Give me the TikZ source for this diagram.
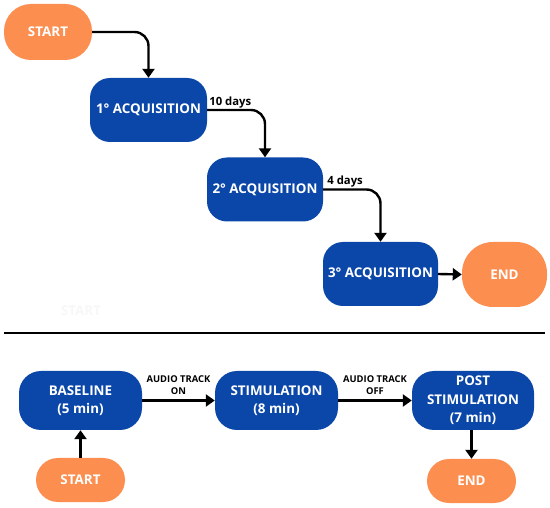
\documentclass[tikz,border=0pt]{standalone}
\usepackage{fontspec}
\setmainfont{Open Sans}
\usetikzlibrary{arrows.meta}
\definecolor{boxblue}{HTML}{0B47A8}
\definecolor{boxorange}{HTML}{FC8E50}
\tikzset{
  bluebox/.style={fill=boxblue, text=white, font=\bfseries\fontsize{13.4}{18.5}\selectfont, align=center, inner sep=0pt, rounded corners=20pt},
  orangebox/.style={fill=boxorange, text=white, font=\bfseries\fontsize{13.4}{18.5}\selectfont, inner sep=0pt},
  arr/.style={line width=2.4pt, -{Triangle[length=9pt,width=12pt]}},
  lbl/.style={font=\bfseries\fontsize{11.3}{13}\selectfont, align=center, inner sep=1pt},
  audlbl/.style={font=\bfseries\fontsize{9.4}{11.5}\selectfont, align=center, inner sep=1pt},
}
\begin{document}
\begin{tikzpicture}[x=1pt,y=-1pt]
\useasboundingbox (0,0) rectangle (550,508);
% top part
\node[orangebox, minimum width=88pt, minimum height=56pt, rounded corners=27pt] (start1) at (48,32) {START};
\node[bluebox, minimum width=117pt, minimum height=64pt] (acq1) at (148.5,110) {1° ACQUISITION};
\node[bluebox, minimum width=116pt, minimum height=64pt] (acq2) at (265,189.5) {2° ACQUISITION};
\node[bluebox, minimum width=115pt, minimum height=64pt] (acq3) at (380.5,274) {3° ACQUISITION};
\node[orangebox, minimum width=85pt, minimum height=65pt, rounded corners=31pt] (end1) at (504.5,274.5) {END};
\draw[arr, rounded corners=14pt] (start1.east) -| (acq1.north);
\draw[arr, rounded corners=14pt] (acq1.east) -| (acq2.north);
\draw[arr, rounded corners=14pt] (acq2.east) -| (acq3.north);
\draw[arr] (acq3.east) -- (end1.west);
\node[lbl, anchor=south west] (d10) at ([xshift=1pt,yshift=1pt]acq1.east) {10 days};
\node[lbl, anchor=south west] (d4) at ([xshift=3pt,yshift=1pt]acq2.east) {4 days};
\node[text=black!3, font=\bfseries\fontsize{13.4}{14}\selectfont] (ghost) at (81,311) {START};
% separator
\coordinate (sepL) at (4,333);
\coordinate (sepR) at (545,333);
\draw[line width=2pt] (sepL) -- (sepR);
% bottom part
\node[bluebox, rounded corners=22pt, minimum width=123pt, minimum height=59pt] (base) at (80.5,400.5) {BASELINE\\(5 min)};
\node[bluebox, rounded corners=22pt, minimum width=123pt, minimum height=59pt] (stim) at (276.5,400.5) {STIMULATION\\(8 min)};
\node[bluebox, rounded corners=22pt, minimum width=122pt, minimum height=59pt] (post) at (473,400.5) {POST\\STIMULATION\\(7 min)};
\node[orangebox, rounded corners=22pt, minimum width=89pt, minimum height=44pt] (start2) at (80.5,480) {START};
\node[orangebox, rounded corners=22pt, minimum width=89pt, minimum height=44pt] (end2) at (471.5,481) {END};
\draw[arr] (start2.north) -- (base.south);
\draw[arr] (base.east) -- (stim.west);
\draw[arr] (stim.east) -- (post.west);
\draw[arr] (post.south -| end2.north) -- (end2.north);
\node[audlbl] (on) at (178.5,385) {AUDIO TRACK\\ON};
\node[audlbl] (off) at (375,385) {AUDIO TRACK\\OFF};
\end{tikzpicture}
\end{document}
